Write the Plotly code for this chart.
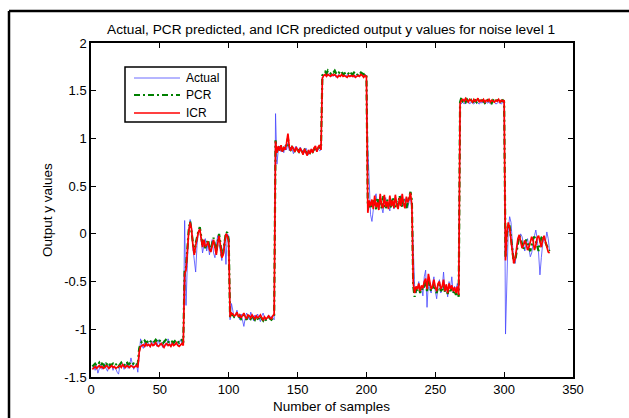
import numpy as np
import plotly.graph_objects as go

# output y values per sample (10 blocks of ~33 samples)
actual = [
    -1.41, -1.39, -1.43, -1.38, -1.46, -1.40, -1.37, -1.42, -1.39, -1.36, -1.41, -1.44, -1.38, -1.40, -1.37, -1.43, -1.39,
    -1.41, -1.45, -1.47, -1.38, -1.40, -1.36, -1.42, -1.39, -1.35, -1.41, -1.38, -1.30, -1.37, -1.42, -1.39, -1.36, -1.45,
    -1.22, -1.10, -1.17, -1.20, -1.14, -1.18, -1.13, -1.16, -1.19, -1.12, -1.15, -1.17, -1.13, -1.18, -1.11, -1.16, -1.14,
    -1.19, -1.12, -1.15, -1.17, -1.10, -1.14, -1.18, -1.13, -1.16, -1.12, -1.15, -1.17, -1.14, -1.11, -1.15, -1.16,
    0.14, -0.75, -0.30, 0.05, 0.15, 0.08, -0.15, -0.25, -0.40, -0.12, 0.02, 0.06, -0.08, -0.20, -0.12, -0.05, -0.18,
    -0.10, -0.22, -0.15, -0.06, -0.20, -0.25, -0.12, -0.02, -0.10, -0.22, -0.28, -0.15, -0.05, -0.32, 0.00, -0.02,
    -0.90, -0.73, -0.82, -0.88, -0.85, -0.80, -0.86, -0.90, -0.84, -0.92, -0.97, -0.88, -0.83, -0.86, -0.90, -0.82, -0.87,
    -0.91, -0.85, -0.88, -0.84, -0.89, -0.92, -0.86, -0.83, -0.88, -0.91, -0.87, -0.85, -0.89, -0.86, -0.88, -0.90,
    1.26, 0.73, 0.88, 0.92, 0.86, 0.90, 0.85, 0.93, 0.88, 0.95, 0.87, 0.91, 0.89, 0.84, 0.90, 0.92, 0.87,
    0.89, 0.91, 0.86, 0.88, 0.85, 0.90, 0.87, 0.83, 0.86, 0.89, 0.85, 0.88, 0.90, 0.86, 0.89, 0.87, 0.88,
    1.64, 1.66, 1.67, 1.65, 1.66, 1.68, 1.66, 1.65, 1.67, 1.66, 1.64, 1.66, 1.67, 1.65, 1.66, 1.68, 1.66,
    1.65, 1.67, 1.66, 1.65, 1.67, 1.66, 1.64, 1.66, 1.67, 1.65, 1.66, 1.68, 1.66, 1.65, 1.67, 1.66,
    0.91, 0.45, 0.20, 0.13, 0.25, 0.38, 0.42, 0.30, 0.26, 0.35, 0.28, 0.22, 0.33, 0.38, 0.27, 0.30, 0.24,
    0.36, 0.31, 0.26, 0.39, 0.33, 0.28, 0.35, 0.40, 0.29, 0.33, 0.37, 0.30, 0.27, 0.34, 0.38, 0.25,
    -0.20, -0.55, -0.62, -0.58, -0.50, -0.60, -0.55, -0.65, -0.45, -0.38, -0.77, -0.50, -0.58, -0.62, -0.52, -0.45, -0.60,
    -0.68, -0.55, -0.48, -0.62, -0.57, -0.40, -0.60, -0.53, -0.66, -0.50, -0.58, -0.45, -0.62, -0.55, -0.60, -0.52, -0.58,
    1.35, 1.37, 1.38, 1.36, 1.38, 1.37, 1.39, 1.36, 1.38, 1.37, 1.36, 1.38, 1.39, 1.37, 1.36, 1.38, 1.37,
    1.39, 1.36, 1.38, 1.37, 1.38, 1.36, 1.37, 1.39, 1.38, 1.36, 1.37, 1.38, 1.37, 1.36, 1.38, 1.37,
    -1.05, -0.40, 0.05, 0.18, 0.12, -0.10, -0.28, -0.31, -0.20, -0.08, -0.05, 0.00, -0.03, -0.12, -0.18, -0.10, -0.05,
    -0.15, -0.24, -0.20, -0.10, -0.02, 0.04, -0.05, -0.20, -0.43, -0.25, -0.10, -0.05, -0.08, 0.02, -0.05, -0.18,
]

pcr = [
    -1.39, -1.37, -1.36, -1.38, -1.37, -1.35, -1.38, -1.36, -1.37, -1.39, -1.36, -1.37, -1.35, -1.38, -1.37, -1.36, -1.38,
    -1.37, -1.36, -1.39, -1.37, -1.35, -1.37, -1.38, -1.36, -1.34, -1.37, -1.36, -1.35, -1.37, -1.36, -1.38, -1.37, -1.36,
    -1.20, -1.15, -1.13, -1.14, -1.12, -1.14, -1.13, -1.15, -1.13, -1.12, -1.14, -1.13, -1.11, -1.13, -1.14, -1.12, -1.13,
    -1.15, -1.13, -1.12, -1.10, -1.13, -1.14, -1.12, -1.13, -1.14, -1.12, -1.11, -1.13, -1.14, -1.12, -1.11, -1.14,
    -0.38, -0.35, -0.10, 0.05, 0.13, 0.02, -0.15, -0.20, -0.10, -0.02, 0.03, 0.07, -0.05, -0.12, -0.08, -0.15, -0.10,
    -0.06, -0.14, -0.18, -0.10, -0.04, -0.12, -0.20, -0.08, 0.00, -0.10, -0.24, -0.20, -0.08, 0.02, 0.01, -0.06,
    -0.88, -0.84, -0.85, -0.87, -0.86, -0.84, -0.88, -0.86, -0.89, -0.87, -0.85, -0.88, -0.90, -0.86, -0.87, -0.89, -0.86,
    -0.88, -0.90, -0.87, -0.89, -0.88, -0.86, -0.89, -0.91, -0.88, -0.90, -0.89, -0.87, -0.89, -0.90, -0.88, -0.86,
    0.98, 0.86, 0.90, 0.88, 0.92, 0.87, 0.90, 0.89, 0.93, 1.00, 0.90, 0.88, 0.91, 0.89, 0.87, 0.90, 0.88,
    0.86, 0.89, 0.87, 0.85, 0.88, 0.86, 0.84, 0.87, 0.85, 0.88, 0.86, 0.89, 0.91, 0.87, 0.90, 0.92, 0.89,
    1.66, 1.69, 1.70, 1.68, 1.71, 1.69, 1.68, 1.70, 1.69, 1.71, 1.68, 1.67, 1.69, 1.68, 1.70, 1.67, 1.68,
    1.69, 1.67, 1.68, 1.66, 1.68, 1.67, 1.69, 1.68, 1.66, 1.68, 1.67, 1.69, 1.68, 1.67, 1.68, 1.67,
    0.30, 0.28, 0.33, 0.27, 0.35, 0.30, 0.26, 0.38, 0.29, 0.32, 0.27, 0.40, 0.30, 0.26, 0.36, 0.29, 0.33,
    0.27, 0.38, 0.31, 0.28, 0.35, 0.29, 0.40, 0.32, 0.28, 0.36, 0.30, 0.27, 0.33, 0.39, 0.44, 0.35,
    -0.55, -0.66, -0.58, -0.60, -0.55, -0.62, -0.57, -0.59, -0.54, -0.50, -0.60, -0.48, -0.55, -0.60, -0.57, -0.52, -0.58,
    -0.62, -0.56, -0.53, -0.60, -0.58, -0.52, -0.61, -0.57, -0.63, -0.55, -0.60, -0.57, -0.62, -0.59, -0.64, -0.58, -0.66,
    1.38, 1.43, 1.39, 1.40, 1.38, 1.41, 1.39, 1.38, 1.40, 1.37, 1.39, 1.40, 1.38, 1.41, 1.39, 1.38, 1.40,
    1.39, 1.37, 1.39, 1.40, 1.38, 1.39, 1.37, 1.40, 1.39, 1.38, 1.40, 1.39, 1.38, 1.39, 1.40, 1.38,
    -0.25, 0.00, 0.10, 0.08, -0.05, -0.20, -0.30, -0.28, -0.18, -0.08, -0.02, -0.05, -0.12, -0.16, -0.10, -0.06, -0.10,
    -0.16, -0.18, -0.12, -0.05, -0.03, -0.08, -0.15, -0.18, -0.10, -0.04, -0.02, -0.06, -0.10, -0.14, -0.16, -0.18,
]

icr = [
    -1.42, -1.40, -1.39, -1.41, -1.39, -1.38, -1.40, -1.39, -1.41, -1.40, -1.38, -1.39, -1.41, -1.39, -1.38, -1.40, -1.39,
    -1.41, -1.40, -1.39, -1.38, -1.40, -1.37, -1.39, -1.40, -1.38, -1.39, -1.40, -1.38, -1.39, -1.40, -1.39, -1.38, -1.40,
    -1.24, -1.18, -1.17, -1.16, -1.18, -1.15, -1.17, -1.16, -1.18, -1.15, -1.17, -1.16, -1.14, -1.17, -1.18, -1.16, -1.15,
    -1.17, -1.19, -1.16, -1.15, -1.17, -1.16, -1.18, -1.15, -1.17, -1.16, -1.14, -1.17, -1.18, -1.16, -1.15, -1.17,
    -0.42, -0.38, -0.12, 0.03, 0.12, 0.05, -0.12, -0.22, -0.12, -0.04, 0.02, 0.05, -0.08, -0.14, -0.06, -0.13, -0.12,
    -0.08, -0.16, -0.19, -0.12, -0.06, -0.14, -0.22, -0.10, -0.02, -0.12, -0.25, -0.22, -0.10, 0.00, -0.02, -0.08,
    -0.87, -0.83, -0.84, -0.86, -0.85, -0.82, -0.87, -0.85, -0.88, -0.86, -0.83, -0.87, -0.89, -0.85, -0.86, -0.88, -0.85,
    -0.87, -0.89, -0.86, -0.88, -0.87, -0.85, -0.88, -0.90, -0.87, -0.89, -0.88, -0.86, -0.88, -0.89, -0.86, -0.84,
    0.97, 0.85, 0.92, 0.87, 0.93, 0.86, 0.91, 0.88, 0.95, 1.05, 0.91, 0.87, 0.92, 0.88, 0.86, 0.91, 0.87,
    0.85, 0.90, 0.86, 0.83, 0.89, 0.85, 0.82, 0.88, 0.84, 0.89, 0.85, 0.90, 0.92, 0.86, 0.91, 0.93, 0.88,
    1.63, 1.66, 1.67, 1.65, 1.67, 1.66, 1.65, 1.67, 1.66, 1.67, 1.65, 1.64, 1.66, 1.65, 1.67, 1.65, 1.66,
    1.65, 1.64, 1.66, 1.65, 1.66, 1.65, 1.66, 1.64, 1.65, 1.66, 1.65, 1.67, 1.66, 1.64, 1.66, 1.65,
    0.22, 0.35, 0.29, 0.36, 0.26, 0.40, 0.28, 0.33, 0.25, 0.42, 0.30, 0.27, 0.41, 0.28, 0.34, 0.26, 0.40,
    0.29, 0.35, 0.27, 0.41, 0.30, 0.26, 0.38, 0.29, 0.42, 0.31, 0.27, 0.39, 0.33, 0.37, 0.43, 0.30,
    -0.52, -0.62, -0.55, -0.58, -0.52, -0.60, -0.54, -0.57, -0.50, -0.47, -0.58, -0.42, -0.50, -0.58, -0.55, -0.48, -0.56,
    -0.60, -0.52, -0.50, -0.58, -0.55, -0.48, -0.60, -0.53, -0.62, -0.52, -0.58, -0.54, -0.60, -0.56, -0.62, -0.55, -0.64,
    1.36, 1.40, 1.41, 1.39, 1.42, 1.40, 1.38, 1.41, 1.40, 1.38, 1.41, 1.39, 1.40, 1.42, 1.38, 1.40, 1.39,
    1.41, 1.38, 1.40, 1.39, 1.41, 1.38, 1.40, 1.39, 1.38, 1.40, 1.39, 1.41, 1.38, 1.40, 1.39, 1.40,
    -0.28, 0.02, 0.12, 0.06, -0.08, -0.22, -0.31, -0.26, -0.15, -0.05, -0.01, -0.08, -0.15, -0.12, -0.07, -0.10, -0.17,
    -0.14, -0.08, -0.03, -0.07, -0.17, -0.12, -0.04, -0.02, -0.09, -0.14, -0.06, -0.02, -0.08, -0.13, -0.19, -0.20,
]

x_ticks = [0, 50, 100, 150, 200, 250, 300, 350]
y_ticks = [-1.5, -1, -0.5, 0, 0.5, 1, 1.5, 2]
y_ticktext = ["-1.5", "-1", "-0.5", "0", "0.5", "1", "1.5", "2"]

W, H = 629, 418
L, R, T, B = 91, 573, 43, 377   # plot area in pixels
FONT = "Liberation Sans, Arial, sans-serif"


def px(x):  # pixel -> paper x
    return (x - L) / (R - L)


def py(y):  # pixel -> paper y
    return 1 - (y - T) / (B - T)


series = [
    ("Actual", actual, dict(color="rgb(70,70,255)", width=0.8)),
    ("PCR", pcr, dict(color="#008000", width=2.2, dash="6px,3px,2px,3px")),
    ("ICR", icr, dict(color="#ff0000", width=1.7)),
]

fig = go.Figure()
for name, y, line in series:
    fig.add_trace(go.Scatter(x=np.arange(1, len(y) + 1), y=y, mode="lines", name=name, line=line))

axis = dict(showline=True, linecolor="black", linewidth=1.5, mirror="ticks", ticks="inside",
            ticklen=5, tickwidth=1, tickcolor="black", showgrid=False, zeroline=False,
            tickfont=dict(family=FONT, size=13, color="black"))

fig.update_layout(
    width=W, height=H,
    margin=dict(l=L, r=W - R, t=T, b=H - B),
    paper_bgcolor="white", plot_bgcolor="white",
    showlegend=False,
    xaxis=dict(range=[0, 350], tickvals=x_ticks, **axis),
    yaxis=dict(range=[-1.5, 2], tickvals=y_ticks, ticktext=y_ticktext, **axis),
    font=dict(family=FONT, size=13, color="black"),
)

# outer figure frame: only its top and left sides are inside the picture
frame = dict(color="black", width=2.5)
fig.add_shape(type="line", xref="paper", yref="paper", x0=px(9), x1=px(700), y0=py(11), y1=py(11), line=frame)
fig.add_shape(type="line", xref="paper", yref="paper", x0=px(9), x1=px(9), y0=py(11), y1=py(460), line=frame)

# legend box drawn by hand to match the MATLAB look
fig.add_shape(type="rect", xref="paper", yref="paper", x0=px(125), x1=px(226), y0=py(122), y1=py(67),
              line=dict(color="black", width=1.5), fillcolor="white", layer="above")
for (name, _, line), yy in zip(series, [78, 95, 113]):
    fig.add_shape(type="line", xref="paper", yref="paper", x0=px(134), x1=px(180), y0=py(yy), y1=py(yy),
                  line=line, layer="above")
    fig.add_annotation(text=name, xref="paper", yref="paper", x=px(184), y=py(yy), xanchor="left",
                       yanchor="middle", showarrow=False, font=dict(family=FONT, size=12, color="black"))

fig.add_annotation(text="Actual, PCR predicted, and ICR predicted output y values for noise level 1",
                   xref="paper", yref="paper", x=px(331), y=py(30), xanchor="center", yanchor="middle",
                   showarrow=False, font=dict(family=FONT, size=13.7, color="black"))
fig.add_annotation(text="Number of samples", xref="paper", yref="paper", x=px(331), y=py(406),
                   xanchor="center", yanchor="middle", showarrow=False,
                   font=dict(family=FONT, size=13.5, color="black"))
fig.add_annotation(text="Output y values", xref="paper", yref="paper", x=px(47), y=py(210),
                   xanchor="center", yanchor="middle", textangle=-90, showarrow=False,
                   font=dict(family=FONT, size=13.5, color="black"))

# drop the browser's default body margin so the figure sits at the window's corner
fig.write_html("out.html", config={"displayModeBar": False},
               post_script="document.body.style.margin='0';document.body.style.overflow='hidden';")
